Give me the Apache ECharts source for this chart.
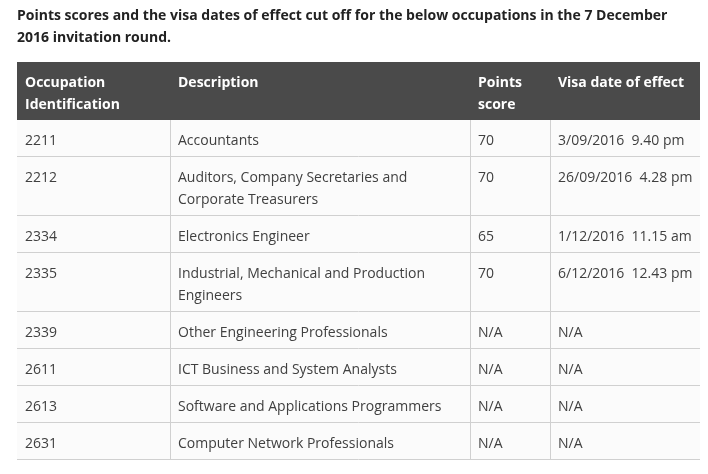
<!DOCTYPE html>
<html>
<head>
<meta charset="utf-8">
<script src="https://cdn.jsdelivr.net/npm/echarts@6/dist/echarts.min.js"></script>
<style>
  html, body { margin: 0; padding: 0; background: #fff; }
  #table_echarts { width: 708px; height: 474px; }
</style>
</head>
<body>
<div id="table_echarts"></div>
<script>
// table content
var headers = ['Occupation\nIdentification', 'Description', 'Points\nscore', 'Visa date of effect'];
var codes = ['2211', '2212', '2334', '2335', '2339', '2611', '2613', '2631'];
var descriptions = [
	'Accountants',
	'Auditors, Company Secretaries and\nCorporate Treasurers',
	'Electronics Engineer',
	'Industrial, Mechanical and Production\nEngineers',
	'Other Engineering Professionals',
	'ICT Business and System Analysts',
	'Software and Applications Programmers',
	'Computer Network Professionals'
];
var points = ['70', '70', '65', '70', 'N/A', 'N/A', 'N/A', 'N/A'];
var visaDates = ['3/09/2016  9.40 pm', '26/09/2016  4.28 pm', '1/12/2016  11.15 am', '6/12/2016  12.43 pm', 'N/A', 'N/A', 'N/A', 'N/A'];

(function(){
	var myChart = echarts.init(document.getElementById('table_echarts'));

	// column edges in axis units (table is 683 wide)
	var colEdges = [0, 153, 453, 533, 683];
	var lineH = 22, padTop = 8, padBottom = 7;

	// rows: header first, then body
	var rows = [headers];
	for (var i = 0; i < codes.length; i++) {
		rows.push([codes[i], descriptions[i], points[i], visaDates[i]]);
	}
	function lineCount(row) {
		var n = 1;
		row.forEach(function(c){ n = Math.max(n, c.split('\n').length); });
		return n;
	}
	var rowTop = [], rowBottom = [], acc = 0;
	rows.forEach(function(r){
		rowTop.push(acc);
		acc += padTop + padBottom + lineH * lineCount(r) - (r === headers ? 1 : 0);
		rowBottom.push(acc);
	});
	var total = acc;

	var data = rows.map(function(r, idx){ return [idx, rowTop[idx], rowBottom[idx]]; });

	function renderItem(params, api) {
		var idx = api.value(0);
		var top = api.value(1), bottom = api.value(2);
		var isHead = idx === 0;
		var p0 = api.coord([colEdges[0], top]);
		var p1 = api.coord([colEdges[colEdges.length - 1], bottom]);
		var children = [{
			type: 'rect',
			shape: { x: p0[0], y: p0[1], width: p1[0] - p0[0], height: p1[1] - p0[1] },
			style: { fill: isHead ? '#4a4a4a' : '#fbfbfb' }
		}];
		if (!isHead) {
			children.push({
				type: 'line',
				shape: { x1: p0[0], y1: p1[1] - 0.5, x2: p1[0], y2: p1[1] - 0.5 },
				style: { stroke: '#d0d0d0', lineWidth: 1 }
			});
			for (var c = 1; c < colEdges.length - 1; c++) {
				var xe = api.coord([colEdges[c], top])[0];
				children.push({
					type: 'line',
					shape: { x1: xe + 0.5, y1: p0[1], x2: xe + 0.5, y2: p1[1] },
					style: { stroke: '#d0d0d0', lineWidth: 1 }
				});
			}
		}
		rows[idx].forEach(function(txt, c){
			var pt = api.coord([colEdges[c], top]);
			children.push({
				type: 'text',
				x: pt[0] + 8,
				y: pt[1] + padTop + 2,
				style: {
					text: txt,
					fontFamily: 'Open Sans',
					fontSize: 14,
					fontWeight: isHead ? 'bold' : 'normal',
					fill: isHead ? '#ffffff' : '#404040',
					lineHeight: lineH,
					textVerticalAlign: 'top'
				}
			});
		});
		return { type: 'group', children: children };
	}

	var option = {
		animation: false,
		title: {
			left: 12,
			top: 0,
			text: '{b|Points scores and the visa dates of effect cut off for the below occupations in the 7 December}\n{b|2016 invitation round}{n|.}',
			textStyle: {
				rich: {
					b: { fontFamily: 'Open Sans', fontSize: 14, fontWeight: 'bold', color: '#222', lineHeight: 22 },
					n: { fontFamily: 'Open Sans', fontSize: 14, color: '#222', lineHeight: 22 }
				}
			}
		},
		grid: { left: 17, right: 8, top: 62, bottom: 474 - 62 - total },
		xAxis: { type: 'value', min: 0, max: colEdges[colEdges.length - 1], show: false },
		yAxis: { type: 'value', min: 0, max: total, inverse: true, show: false },
		series: [{
			type: 'custom',
			renderItem: renderItem,
			data: data,
			encode: { x: -1, y: [1, 2] },
			clip: false
		}]
	};

	myChart.setOption(option, true);
})();
</script>
</body>
</html>
